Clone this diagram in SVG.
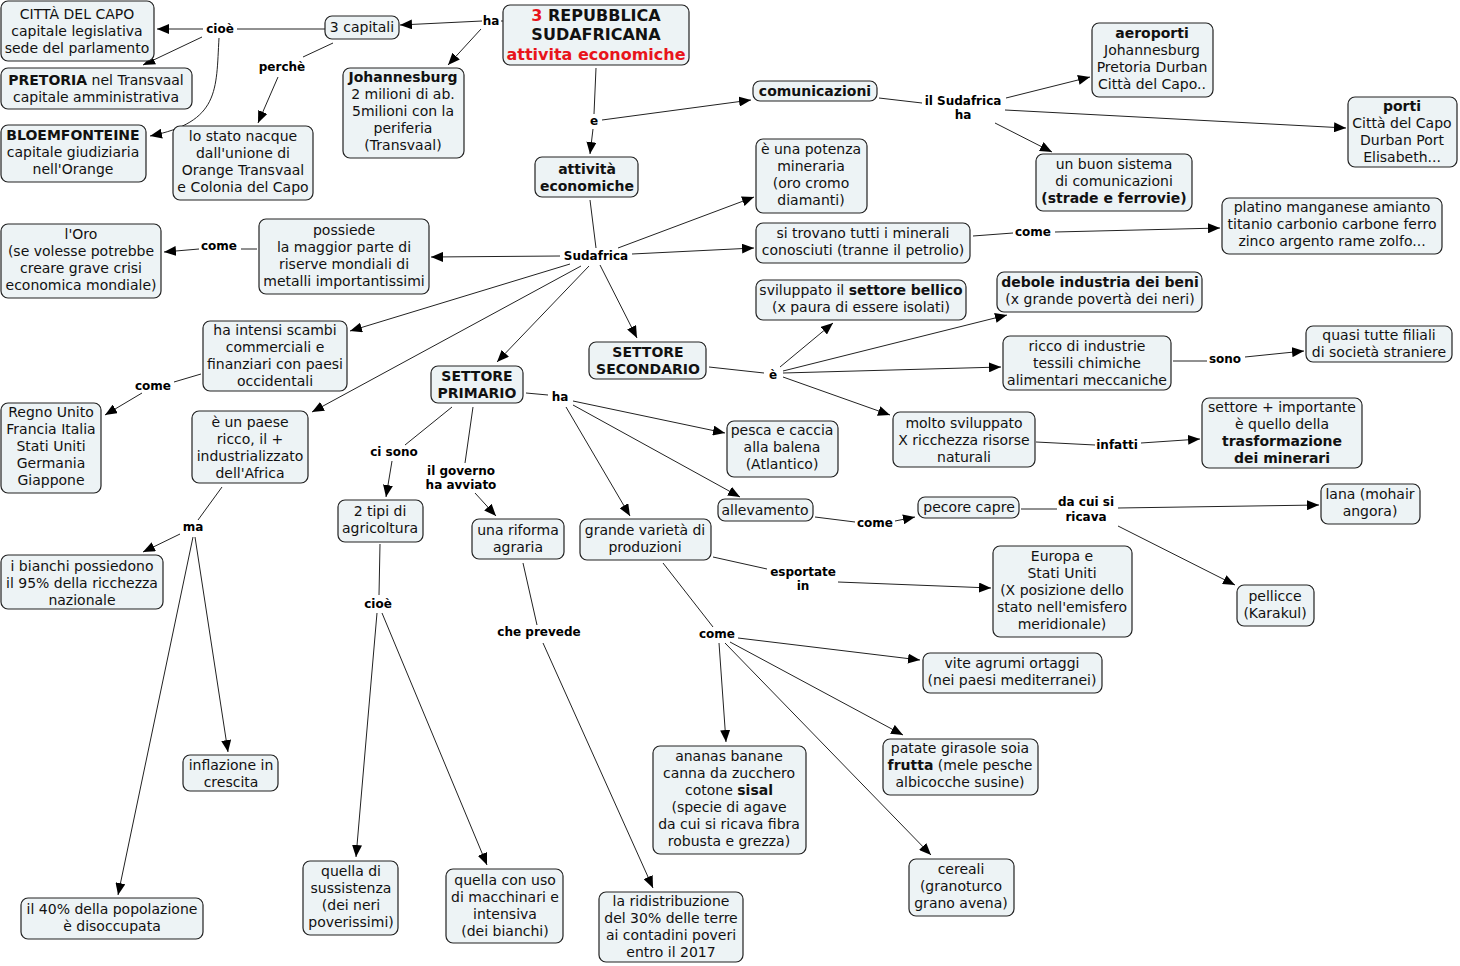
<svg xmlns="http://www.w3.org/2000/svg" width="1460" height="966" viewBox="0 0 1460 966">
<defs>
<marker id="ar" markerUnits="userSpaceOnUse" markerWidth="12" markerHeight="10" refX="12" refY="5" orient="auto"><path d="M0,0 L12,5 L0,10 z" fill="#000"/></marker>
<style>
rect{fill:#edf3f5;stroke:#222;stroke-width:1.2}
text{font-family:"DejaVu Sans",Verdana,sans-serif;font-size:14px;fill:#111;text-anchor:middle}
.b{font-weight:bold}
.r{fill:#e8141b}
.l{font-size:12px;font-weight:bold;fill:#000}
.t{font-size:16px;font-weight:bold}
#links line,#links path{stroke:#222;stroke-width:1;fill:none}
#links .a{marker-end:url(#ar)}
</style>
</defs>
<rect x="0" y="0" width="1460" height="966" style="fill:#fff;stroke:none"/>
<g id="links">
<line x1="503" y1="21" x2="501" y2="21"/>
<line class="a" x1="482" y1="21" x2="400" y2="25"/>
<line class="a" x1="481" y1="29" x2="448" y2="65"/>
<line x1="325" y1="29" x2="237" y2="29"/>
<line class="a" x1="203" y1="29" x2="157" y2="29"/>
<line class="a" x1="202" y1="37" x2="143" y2="65"/>
<path class="a" d="M219,38 C216,90 220,122 150,136"/>
<line x1="333" y1="43" x2="303" y2="57"/>
<line class="a" x1="278" y1="77" x2="258" y2="123"/>
<line x1="596" y1="68" x2="594" y2="114"/>
<line class="a" x1="593" y1="129" x2="590" y2="154"/>
<line class="a" x1="602" y1="120" x2="751" y2="100"/>
<line x1="879" y1="98" x2="922" y2="103"/>
<line class="a" x1="1006" y1="98" x2="1090" y2="77"/>
<line class="a" x1="1005" y1="110" x2="1346" y2="128"/>
<line class="a" x1="995" y1="123" x2="1052" y2="152"/>
<line x1="590" y1="200" x2="596" y2="248"/>
<line class="a" x1="618" y1="248" x2="754" y2="197"/>
<line class="a" x1="632" y1="254" x2="754" y2="248"/>
<line class="a" x1="560" y1="256" x2="431" y2="257"/>
<line class="a" x1="570" y1="264" x2="350" y2="331"/>
<line class="a" x1="581" y1="266" x2="312" y2="412"/>
<line class="a" x1="589" y1="266" x2="497" y2="362"/>
<line class="a" x1="600" y1="265" x2="637" y2="338"/>
<line x1="257" y1="249" x2="241" y2="249"/>
<line class="a" x1="199" y1="249" x2="164" y2="252"/>
<line x1="973" y1="236" x2="1013" y2="233"/>
<line class="a" x1="1055" y1="232" x2="1220" y2="228"/>
<line x1="201" y1="374" x2="174" y2="382"/>
<line class="a" x1="142" y1="393" x2="105" y2="415"/>
<line x1="222" y1="487" x2="198" y2="520"/>
<line class="a" x1="180" y1="534" x2="143" y2="552"/>
<line class="a" x1="193" y1="537" x2="118" y2="895"/>
<line class="a" x1="195" y1="537" x2="228" y2="752"/>
<line x1="709" y1="367" x2="764" y2="373"/>
<line class="a" x1="780" y1="367" x2="833" y2="323"/>
<line class="a" x1="783" y1="371" x2="1007" y2="315"/>
<line class="a" x1="783" y1="373" x2="1001" y2="367"/>
<line class="a" x1="783" y1="377" x2="890" y2="415"/>
<line x1="1173" y1="361" x2="1207" y2="361"/>
<line class="a" x1="1245" y1="357" x2="1304" y2="351"/>
<line x1="1036" y1="442" x2="1095" y2="445"/>
<line class="a" x1="1141" y1="443" x2="1200" y2="439"/>
<line x1="526" y1="393" x2="548" y2="395"/>
<line class="a" x1="573" y1="401" x2="725" y2="433"/>
<line class="a" x1="573" y1="405" x2="740" y2="497"/>
<line class="a" x1="566" y1="407" x2="630" y2="516"/>
<line x1="452" y1="407" x2="405" y2="445"/>
<line class="a" x1="392" y1="461" x2="386" y2="497"/>
<line x1="473" y1="407" x2="465" y2="463"/>
<line class="a" x1="475" y1="493" x2="496" y2="516"/>
<line x1="380" y1="544" x2="379" y2="595"/>
<line class="a" x1="377" y1="613" x2="356" y2="857"/>
<line class="a" x1="382" y1="613" x2="487" y2="865"/>
<line x1="523" y1="563" x2="537" y2="625"/>
<line class="a" x1="543" y1="643" x2="653" y2="888"/>
<line x1="815" y1="517" x2="855" y2="522"/>
<line class="a" x1="895" y1="521" x2="915" y2="517"/>
<line x1="1021" y1="509" x2="1057" y2="509"/>
<line class="a" x1="1118" y1="508" x2="1319" y2="505"/>
<line class="a" x1="1118" y1="526" x2="1235" y2="585"/>
<line x1="713" y1="557" x2="767" y2="569"/>
<line class="a" x1="838" y1="582" x2="991" y2="588"/>
<line x1="663" y1="563" x2="713" y2="627"/>
<line class="a" x1="738" y1="638" x2="920" y2="660"/>
<line class="a" x1="719" y1="643" x2="726" y2="742"/>
<line class="a" x1="730" y1="642" x2="903" y2="735"/>
<line class="a" x1="725" y1="643" x2="931" y2="855"/>
</g>
<g id="labels">
<text class="l" x="491" y="25">ha</text>
<text class="l" x="220" y="33">cioè</text>
<text class="l" x="282" y="71">perchè</text>
<text class="l" x="594" y="125">e</text>
<text class="l" x="963" y="105">il Sudafrica</text>
<text class="l" x="963" y="119">ha</text>
<text class="l" x="596" y="260">Sudafrica</text>
<text class="l" x="219" y="250">come</text>
<text class="l" x="1033" y="236">come</text>
<text class="l" x="153" y="390">come</text>
<text class="l" x="193" y="531">ma</text>
<text class="l" x="773" y="379">è</text>
<text class="l" x="1225" y="363">sono</text>
<text class="l" x="1117" y="449">infatti</text>
<text class="l" x="560" y="401">ha</text>
<text class="l" x="394" y="456">ci sono</text>
<text class="l" x="461" y="475">il governo</text>
<text class="l" x="461" y="489">ha avviato</text>
<text class="l" x="378" y="608">cioè</text>
<text class="l" x="539" y="636">che prevede</text>
<text class="l" x="875" y="527">come</text>
<text class="l" x="1086" y="506">da cui si</text>
<text class="l" x="1086" y="521">ricava</text>
<text class="l" x="803" y="576">esportate</text>
<text class="l" x="803" y="590">in</text>
<text class="l" x="717" y="638">come</text>
</g>
<g id="n1"><rect x="1" y="1" width="153" height="60" rx="7"/><text x="77" y="19">CITTÀ DEL CAPO</text><text x="77" y="36">capitale legislativa</text><text x="77" y="53">sede del parlamento</text></g>
<g id="n2"><rect x="1" y="68" width="191" height="41" rx="7"/><text x="96" y="85"><tspan class="b">PRETORIA</tspan> nel Transvaal</text><text x="96" y="102">capitale amministrativa</text></g>
<g id="n3"><rect x="1" y="125" width="145" height="57" rx="7"/><text class="b" x="73" y="140">BLOEMFONTEINE</text><text x="73" y="157">capitale giudiziaria</text><text x="73" y="174">nell'Orange</text></g>
<g id="n4"><rect x="325" y="16" width="74" height="23" rx="7"/><text x="362" y="32">3 capitali</text></g>
<g id="n5"><rect x="173" y="126" width="140" height="74" rx="7"/><text x="243" y="141">lo stato nacque</text><text x="243" y="158">dall'unione di</text><text x="243" y="175">Orange Transvaal</text><text x="243" y="192">e Colonia del Capo</text></g>
<g id="n6"><rect x="343" y="68" width="121" height="90" rx="7"/><text class="b" x="403" y="82">Johannesburg</text><text x="403" y="99">2 milioni di ab.</text><text x="403" y="116">5milioni con la</text><text x="403" y="133">periferia</text><text x="403" y="150">(Transvaal)</text></g>
<g id="n7"><rect x="503" y="5" width="186" height="60" rx="7"/><text class="t" x="596" y="21"><tspan class="r">3</tspan> REPUBBLICA</text><text class="t" x="596" y="40">SUDAFRICANA</text><text class="t r" x="596" y="60">attivita economiche</text></g>
<g id="n8"><rect x="753" y="81" width="124" height="20" rx="7"/><text class="b" x="815" y="96">comunicazioni</text></g>
<g id="n9"><rect x="535" y="157" width="103" height="40" rx="7"/><text class="b" x="587" y="174">attività</text><text class="b" x="587" y="191">economiche</text></g>
<g id="n10"><rect x="756" y="139" width="111" height="74" rx="7"/><text x="811" y="154">è una potenza</text><text x="811" y="171">mineraria</text><text x="811" y="188">(oro cromo</text><text x="811" y="205">diamanti)</text></g>
<g id="n11"><rect x="1092" y="23" width="121" height="74" rx="7"/><text class="b" x="1152" y="38">aeroporti</text><text x="1152" y="55">Johannesburg</text><text x="1152" y="72">Pretoria Durban</text><text x="1152" y="89">Città del Capo..</text></g>
<g id="n12"><rect x="1348" y="97" width="109" height="70" rx="7"/><text class="b" x="1402" y="111">porti</text><text x="1402" y="128">Città del Capo</text><text x="1402" y="145">Durban Port</text><text x="1402" y="162">Elisabeth...</text></g>
<g id="n13"><rect x="1036" y="154" width="156" height="57" rx="7"/><text x="1114" y="169">un buon sistema</text><text x="1114" y="186">di comunicazioni</text><text class="b" x="1114" y="203">(strade e ferrovie)</text></g>
<g id="n14"><rect x="1222" y="198" width="220" height="56" rx="7"/><text x="1332" y="212">platino manganese amianto</text><text x="1332" y="229">titanio carbonio carbone ferro</text><text x="1332" y="246">zinco argento rame zolfo...</text></g>
<g id="n15"><rect x="997" y="272" width="205" height="40" rx="7"/><text class="b" x="1100" y="287">debole industria dei beni</text><text x="1100" y="304">(x grande povertà dei neri)</text></g>
<g id="n16"><rect x="1003" y="336" width="168" height="54" rx="7"/><text x="1087" y="351">ricco di industrie</text><text x="1087" y="368">tessili chimiche</text><text x="1087" y="385">alimentari meccaniche</text></g>
<g id="n17"><rect x="1306" y="326" width="146" height="36" rx="7"/><text x="1379" y="340">quasi tutte filiali</text><text x="1379" y="357">di società straniere</text></g>
<g id="n18"><rect x="1202" y="398" width="160" height="70" rx="7"/><text x="1282" y="412">settore + importante</text><text x="1282" y="429">è quello della</text><text class="b" x="1282" y="446">trasformazione</text><text class="b" x="1282" y="463">dei minerari</text></g>
<g id="n19"><rect x="893" y="412" width="142" height="55" rx="7"/><text x="964" y="428">molto sviluppato</text><text x="964" y="445">X ricchezza risorse</text><text x="964" y="462">naturali</text></g>
<g id="n20"><rect x="1321" y="484" width="99" height="40" rx="7"/><text x="1370" y="499">lana (mohair</text><text x="1370" y="516">angora)</text></g>
<g id="n21"><rect x="1237" y="585" width="77" height="41" rx="7"/><text x="1275" y="601">pellicce</text><text x="1275" y="618">(Karakul)</text></g>
<g id="n22"><rect x="993" y="546" width="139" height="91" rx="7"/><text x="1062" y="561">Europa e</text><text x="1062" y="578">Stati Uniti</text><text x="1062" y="595">(X posizione dello</text><text x="1062" y="612">stato nell'emisfero</text><text x="1062" y="629">meridionale)</text></g>
<g id="n23"><rect x="918" y="497" width="101" height="21" rx="7"/><text x="969" y="512">pecore capre</text></g>
<g id="n24"><rect x="923" y="653" width="179" height="40" rx="7"/><text x="1012" y="668">vite agrumi ortaggi</text><text x="1012" y="685">(nei paesi mediterranei)</text></g>
<g id="n25"><rect x="883" y="739" width="155" height="56" rx="7"/><text x="960" y="753">patate girasole soia</text><text x="960" y="770"><tspan class="b">frutta</tspan> (mele pesche</text><text x="960" y="787">albicocche susine)</text></g>
<g id="n26"><rect x="909" y="859" width="105" height="57" rx="7"/><text x="961" y="874">cereali</text><text x="961" y="891">(granoturco</text><text x="961" y="908">grano avena)</text></g>
<g id="n27"><rect x="653" y="746" width="153" height="108" rx="7"/><text x="729" y="761">ananas banane</text><text x="729" y="778">canna da zucchero</text><text x="729" y="795">cotone <tspan class="b">sisal</tspan></text><text x="729" y="812">(specie di agave</text><text x="729" y="829">da cui si ricava fibra</text><text x="729" y="846">robusta e grezza)</text></g>
<g id="n28"><rect x="599" y="892" width="144" height="70" rx="7"/><text x="671" y="906">la ridistribuzione</text><text x="671" y="923">del 30% delle terre</text><text x="671" y="940">ai contadini poveri</text><text x="671" y="957">entro il 2017</text></g>
<g id="n29"><rect x="580" y="519" width="131" height="41" rx="7"/><text x="645" y="535">grande varietà di</text><text x="645" y="552">produzioni</text></g>
<g id="n30"><rect x="718" y="499" width="95" height="22" rx="7"/><text x="765" y="515">allevamento</text></g>
<g id="n31"><rect x="472" y="519" width="92" height="40" rx="7"/><text x="518" y="535">una riforma</text><text x="518" y="552">agraria</text></g>
<g id="n32"><rect x="338" y="500" width="85" height="42" rx="7"/><text x="380" y="516">2 tipi di</text><text x="380" y="533">agricoltura</text></g>
<g id="n33"><rect x="431" y="366" width="92" height="37" rx="7"/><text class="b" x="477" y="381">SETTORE</text><text class="b" x="477" y="398">PRIMARIO</text></g>
<g id="n34"><rect x="589" y="342" width="117" height="37" rx="7"/><text class="b" x="648" y="357">SETTORE</text><text class="b" x="648" y="374">SECONDARIO</text></g>
<g id="n35"><rect x="727" y="421" width="111" height="56" rx="7"/><text x="782" y="435">pesca e caccia</text><text x="782" y="452">alla balena</text><text x="782" y="469">(Atlantico)</text></g>
<g id="n36"><rect x="756" y="280" width="210" height="40" rx="7"/><text x="861" y="295">sviluppato il <tspan class="b">settore bellico</tspan></text><text x="861" y="312">(x paura di essere isolati)</text></g>
<g id="n37"><rect x="756" y="223" width="214" height="40" rx="7"/><text x="863" y="238">si trovano tutti i minerali</text><text x="863" y="255">conosciuti (tranne il petrolio)</text></g>
<g id="n38"><rect x="259" y="219" width="170" height="75" rx="7"/><text x="344" y="235">possiede</text><text x="344" y="252">la maggior parte di</text><text x="344" y="269">riserve mondiali di</text><text x="344" y="286">metalli importantissimi</text></g>
<g id="n39"><rect x="1" y="224" width="160" height="74" rx="7"/><text x="81" y="239">l'Oro</text><text x="81" y="256">(se volesse potrebbe</text><text x="81" y="273">creare grave crisi</text><text x="81" y="290">economica mondiale)</text></g>
<g id="n40"><rect x="203" y="321" width="144" height="70" rx="7"/><text x="275" y="335">ha intensi scambi</text><text x="275" y="352">commerciali e</text><text x="275" y="369">finanziari con paesi</text><text x="275" y="386">occidentali</text></g>
<g id="n41"><rect x="1" y="403" width="100" height="90" rx="7"/><text x="51" y="417">Regno Unito</text><text x="51" y="434">Francia Italia</text><text x="51" y="451">Stati Uniti</text><text x="51" y="468">Germania</text><text x="51" y="485">Giappone</text></g>
<g id="n42"><rect x="192" y="411" width="116" height="72" rx="7"/><text x="250" y="427">è un paese</text><text x="250" y="444">ricco, il +</text><text x="250" y="461">industrializzato</text><text x="250" y="478">dell'Africa</text></g>
<g id="n43"><rect x="1" y="555" width="162" height="54" rx="7"/><text x="82" y="571">i bianchi possiedono</text><text x="82" y="588">il 95% della ricchezza</text><text x="82" y="605">nazionale</text></g>
<g id="n44"><rect x="183" y="755" width="95" height="36" rx="7"/><text x="231" y="770">inflazione in</text><text x="231" y="787">crescita</text></g>
<g id="n45"><rect x="21" y="898" width="182" height="41" rx="7"/><text x="112" y="914">il 40% della popolazione</text><text x="112" y="931">è disoccupata</text></g>
<g id="n46"><rect x="303" y="861" width="95" height="74" rx="7"/><text x="351" y="876">quella di</text><text x="351" y="893">sussistenza</text><text x="351" y="910">(dei neri</text><text x="351" y="927">poverissimi)</text></g>
<g id="n47"><rect x="446" y="869" width="117" height="74" rx="7"/><text x="505" y="885">quella con uso</text><text x="505" y="902">di macchinari e</text><text x="505" y="919">intensiva</text><text x="505" y="936">(dei bianchi)</text></g>
</svg>
